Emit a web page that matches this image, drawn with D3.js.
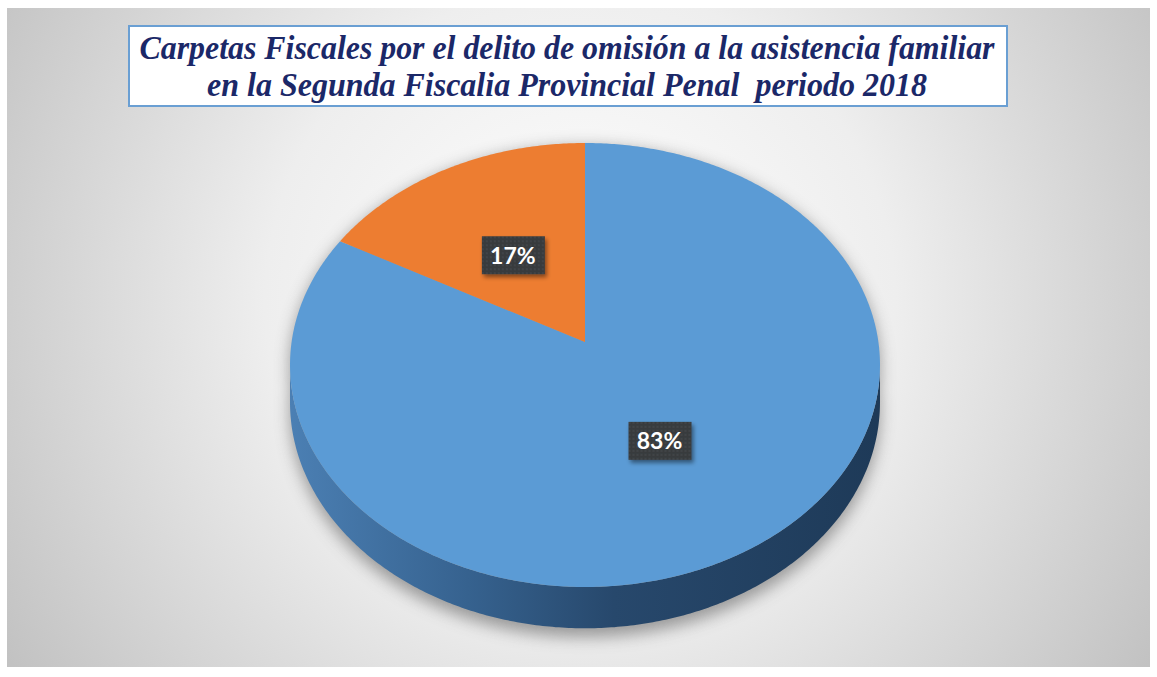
<!DOCTYPE html>
<html>
<head>
<meta charset="utf-8">
<script src="https://cdn.jsdelivr.net/npm/d3@7"></script>
<style>
  body { margin: 0; background: #fff; }
  text.title { white-space: pre; font-family: "Liberation Serif", "Times New Roman", serif; font-style: italic; font-weight: bold; }
</style>
</head>
<body>
<div id="container"></div>
<script>
/* CONSTANTS AND GLOBALS */
const width = 1157;
const height = 677;

// data
const titleLines = [
  "Carpetas Fiscales por el delito de omisión a la asistencia familiar",
  "en la Segunda Fiscalia Provincial Penal  periodo 2018"
];
const categories = ["Segmento 1", "Segmento 2"];
const values = [83, 17];
const sliceColors = ["#5b9bd5", "#ed7d31"];

const data = categories.map((c, i) => ({ category: c, value: values[i] }));

// 3d pie geometry (perspective tilted disk)
const cx = 585, cy = 342;
const kx = 293.4, ky = 219.6;
const persp = 0.1036;
const depth = 37;

function project(theta, r = 1, drop = 0) {
  const x = r * Math.sin(theta), y = -r * Math.cos(theta);
  const s = 1 / (1 - persp * y);
  return [cx + kx * x * s, cy + ky * y * s + drop * s];
}
function arcPoints(a0, a1, drop = 0) {
  const n = Math.max(2, Math.ceil(Math.abs(a1 - a0) / 0.01));
  return d3.range(n + 1).map(i => project(a0 + (a1 - a0) * i / n, 1, drop));
}
const line = d3.line();

/* SCALES */
const color = d3.scaleOrdinal()
  .domain(categories)
  .range(sliceColors);

const pie = d3.pie().sort(null).value(d => d.value);
const arcs = pie(data);

/* HTML ELEMENTS */
const svg = d3.select("#container")
  .append("svg")
  .attr("width", width)
  .attr("height", height);

const defs = svg.append("defs");

const bg = defs.append("radialGradient")
  .attr("id", "bg")
  .attr("gradientUnits", "userSpaceOnUse")
  .attr("cx", 580).attr("cy", 300).attr("r", 700);
bg.append("stop").attr("offset", 0).attr("stop-color", "#ffffff");
bg.append("stop").attr("offset", 0.45).attr("stop-color", "#eeeeee");
bg.append("stop").attr("offset", 1).attr("stop-color", "#bfbfbf");

const sideGrad = defs.append("linearGradient")
  .attr("id", "side")
  .attr("gradientUnits", "userSpaceOnUse")
  .attr("x1", cx - kx).attr("x2", cx + kx).attr("y1", 0).attr("y2", 0);
sideGrad.append("stop").attr("offset", 0).attr("stop-color", "#4b7fb3");
sideGrad.append("stop").attr("offset", 0.3).attr("stop-color", "#36628f");
sideGrad.append("stop").attr("offset", 0.55).attr("stop-color", "#27486c");
sideGrad.append("stop").attr("offset", 1).attr("stop-color", "#1e3a58");

defs.append("filter").attr("id", "blur")
  .attr("x", "-20%").attr("y", "-20%").attr("width", "140%").attr("height", "140%")
  .append("feGaussianBlur").attr("stdDeviation", 8);

const lblShadow = defs.append("filter").attr("id", "lblShadow")
  .attr("x", "-30%").attr("y", "-30%").attr("width", "160%").attr("height", "160%");
lblShadow.append("feDropShadow")
  .attr("dx", 2).attr("dy", 3).attr("stdDeviation", 2)
  .attr("flood-color", "#000").attr("flood-opacity", 0.45);

const dots = defs.append("pattern")
  .attr("id", "dots")
  .attr("patternUnits", "userSpaceOnUse")
  .attr("width", 4).attr("height", 4);
dots.append("rect").attr("width", 4).attr("height", 4).attr("fill", "#383b3e");
dots.append("circle").attr("cx", 2).attr("cy", 2).attr("r", 0.8).attr("fill", "#4c4f52");

// background
svg.append("rect")
  .attr("x", 7).attr("y", 8)
  .attr("width", 1143).attr("height", 659)
  .attr("fill", "url(#bg)");

// title
svg.append("rect")
  .attr("x", 129).attr("y", 26)
  .attr("width", 878).attr("height", 80)
  .attr("fill", "#fff")
  .attr("stroke", "#6a9fd3")
  .attr("stroke-width", 2);

const titleLens = [855, 720];
svg.selectAll("text.title")
  .data(titleLines)
  .join("text")
  .attr("class", "title")
  .attr("x", 567)
  .attr("y", (d, i) => 59 + i * 37)
  .attr("text-anchor", "middle")
  .attr("textLength", (d, i) => titleLens[i])
  .attr("lengthAdjust", "spacingAndGlyphs")
  .attr("font-size", 33)
  .attr("fill", "#1b2868")
  .text(d => d);

// shadow
const shadow = svg.append("g")
  .attr("filter", "url(#blur)")
  .attr("opacity", 0.55);
shadow.append("path")
  .attr("d", line(arcPoints(0, 2 * Math.PI, depth + 8)) + "Z")
  .attr("fill", "#555");
shadow.append("path")
  .attr("d", line(arcPoints(0, 2 * Math.PI, 4)) + "Z")
  .attr("fill", "#555");

// sides (near half only)
const sideStart = Math.acos(-persp);
const sideEnd = 2 * Math.PI - sideStart;
arcs.forEach(a => {
  const t0 = Math.max(a.startAngle, sideStart);
  const t1 = Math.min(a.endAngle, sideEnd);
  if (t1 <= t0) return;
  const pts = arcPoints(t0, t1, 0).concat(arcPoints(t1, t0, depth));
  svg.append("path")
    .attr("d", line(pts) + "Z")
    .attr("fill", a.data.category === categories[0] ? "url(#side)" : d3.color(color(a.data.category)).darker(1.2));
});

// top faces
svg.selectAll("path.slice")
  .data(arcs)
  .join("path")
  .attr("class", "slice")
  .attr("d", a => line([[cx, cy]].concat(arcPoints(a.startAngle, a.endAngle))) + "Z")
  .attr("fill", a => color(a.data.category));

// labels
const total = d3.sum(values);
const labels = svg.selectAll("g.label")
  .data(arcs)
  .join("g")
  .attr("class", "label")
  .attr("transform", a => {
    const p = project((a.startAngle + a.endAngle) / 2, 0.49);
    return `translate(${p[0] - 2},${p[1] + 2})`;
  });

labels.append("rect")
  .attr("x", -31).attr("y", -19)
  .attr("width", 63).attr("height", 38)
  .attr("fill", "url(#dots)")
  .attr("filter", "url(#lblShadow)");

labels.append("text")
  .attr("text-anchor", "middle")
  .attr("dy", "0.36em")
  .attr("font-family", "Lato, 'Open Sans', sans-serif")
  .attr("font-weight", "bold")
  .attr("font-size", 23)
  .attr("fill", "#fff")
  .text(a => Math.round(a.data.value / total * 100) + "%");
</script>
</body>
</html>
